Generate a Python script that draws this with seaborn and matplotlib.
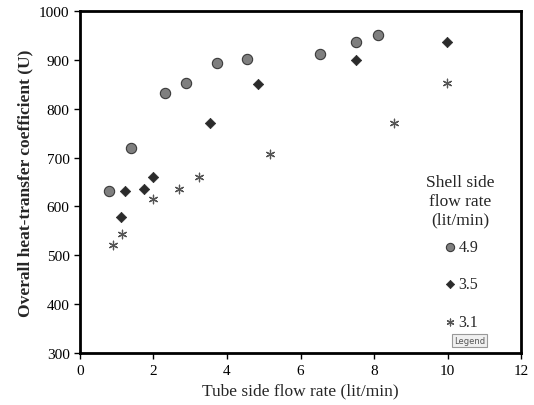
import matplotlib
matplotlib.use("Agg")
import matplotlib.pyplot as plt
import seaborn as sns
import pandas as pd

# tube side flow rate (lit/min) vs overall U, one set per shell side flow rate
x_49 = [0.78, 1.39, 2.31, 2.88, 3.72, 4.54, 6.53, 7.51, 8.12]
u_49 = [631, 720, 832, 853, 894, 902, 912, 937, 951]

x_35 = [1.12, 1.23, 1.74, 2.0, 3.53, 4.83, 7.51, 9.99]
u_35 = [578, 631, 635, 661, 770, 851, 899, 936]

x_31 = [0.89, 1.14, 2.0, 2.70, 3.25, 5.17, 8.55, 9.99]
u_31 = [522, 544, 615, 635, 660, 707, 770, 853]

labels = ["4.9", "3.5", "3.1"]
xticks = [0, 2, 4, 6, 8, 10, 12]
yticks = [300, 400, 500, 600, 700, 800, 900, 1000]

sns.set_style("white")
plt.rcParams['font.family'] = ['Liberation Serif', 'DejaVu Serif']

df = pd.concat([
    pd.DataFrame({"x": x_49, "u": u_49, "shell": labels[0]}),
    pd.DataFrame({"x": x_35, "u": u_35, "shell": labels[1]}),
    pd.DataFrame({"x": x_31, "u": u_31, "shell": labels[2]}),
])

fig = plt.figure(figsize=(5.34, 4.06), dpi=100)
ax = fig.add_axes([0.1498, 0.1273, 0.8259, 0.8439])

sns.scatterplot(data=df[df.shell == "4.9"], x="x", y="u", marker="o", s=55,
                color="#7f7f7f", edgecolor="#3a3a3a", linewidth=0.8,
                label="4.9", ax=ax)
sns.scatterplot(data=df[df.shell == "3.5"], x="x", y="u", marker="D", s=28,
                color="#2b2b2b", edgecolor="#2b2b2b", linewidth=0.5,
                label="3.5", ax=ax)
sns.scatterplot(data=df[df.shell == "3.1"], x="x", y="u", marker=(6, 2, 0), s=38,
                color="#555555", linewidth=0.9, label="3.1", ax=ax)

ax.set_xlim(0, 12)
ax.set_ylim(300, 1000)
ax.set_xticks(xticks)
ax.set_yticks(yticks)
ax.tick_params(axis="both", labelsize=11, direction="out", length=4, width=1,
               bottom=True, left=True, top=False, right=False, colors="black")
for sp in ax.spines.values():
    sp.set_visible(True)
    sp.set_color("black")
    sp.set_linewidth(2)

ax.set_xlabel("Tube side flow rate (lit/min)", fontsize=12.5)
ax.set_ylabel("Overall heat-transfer coefficient (U)", fontsize=12.5,
              fontweight="bold")

leg = ax.legend(title="Shell side\nflow rate\n(lit/min)", frameon=False,
                loc="upper center", bbox_to_anchor=(0.862, 0.565),
                fontsize=11.5, title_fontsize=12.5, labelspacing=1.35,
                handletextpad=0.05, handlelength=1.0, markerscale=0.8)
leg._legend_box.align = "center"
leg._legend_box.sep = 8.5  # tighter gap between title and entries
leg.get_title().set_multialignment("center")

ax.text(0.848, 0.03, "Legend", transform=ax.transAxes, fontsize=6,
        family="DejaVu Sans", color="#555555",
        bbox=dict(boxstyle="square,pad=0.25", fc="#f0f0f0", ec="#999999", lw=0.8))

fig.savefig("out.png", dpi=100)
